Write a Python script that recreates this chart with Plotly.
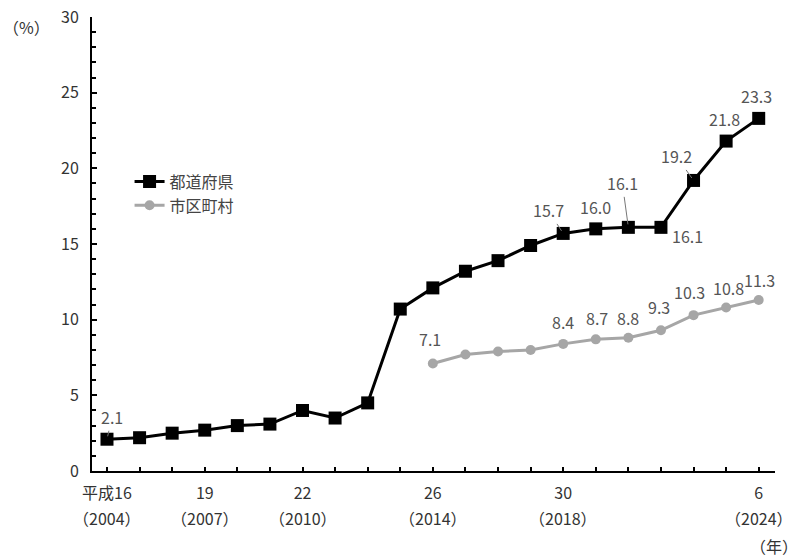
import plotly.graph_objects as go

years = list(range(2004, 2025))
pref_values = [2.1, 2.2, 2.5, 2.7, 3.0, 3.1, 4.0, 3.5, 4.5, 10.7, 12.1, 13.2, 13.9, 14.9,
               15.7, 16.0, 16.1, 16.1, 19.2, 21.8, 23.3]
muni_years = list(range(2014, 2025))
muni_values = [7.1, 7.7, 7.9, 8.0, 8.4, 8.7, 8.8, 9.3, 10.3, 10.8, 11.3]

pref_name = "都道府県"
muni_name = "市区町村"

tick_years = [2004, 2007, 2010, 2014, 2018, 2024]
tick_era_labels = ["平成16", "19", "22", "26", "30", "6"]
tick_year_labels = ["（2004）", "（2007）", "（2010）", "（2014）", "（2018）", "（2024）"]

# labelled points
pref_label_years = [2004, 2018, 2019, 2020, 2021, 2022, 2023, 2024]
muni_label_years = [2014, 2018, 2019, 2020, 2021, 2022, 2023, 2024]

# style: label offsets (px) and whether a leader line is drawn
pref_offsets = {2004: (5, -22, True), 2018: (-15, -23, True), 2019: (0, -22, False),
                2020: (-6, -44, True), 2021: (27, 9, False), 2022: (-17, -24, True),
                2023: (-2, -22, False), 2024: (-2, -22, False)}
muni_offsets = {2014: (-3, -25), 2018: (0, -22), 2019: (1, -21), 2020: (0, -20),
                2021: (-2, -23), 2022: (-4, -23), 2023: (2, -20), 2024: (1, -20)}

FONT = "Liberation Sans Narrow, Noto Sans CJK JP"
LABEL_COLOR = "#555555"
TICK_COLOR = "#333333"

fig = go.Figure()
fig.add_trace(go.Scatter(
    x=years, y=pref_values, name=pref_name, mode="lines+markers",
    line=dict(color="black", width=3),
    marker=dict(symbol="square", size=13, color="black"),
))
fig.add_trace(go.Scatter(
    x=muni_years, y=muni_values, name=muni_name, mode="lines+markers",
    line=dict(color="#a6a6a6", width=3),
    marker=dict(symbol="circle", size=10, color="#a6a6a6"),
))

annotations = []
for yr in pref_label_years:
    v = pref_values[years.index(yr)]
    dx, dy, arrow = pref_offsets[yr]
    if arrow:
        annotations.append(dict(x=yr, y=v, xref="x", yref="y", text=f"{v:.1f}",
                                showarrow=True, ax=dx, ay=dy, arrowhead=0,
                                arrowwidth=1, arrowcolor="#777777", standoff=3,
                                startstandoff=0,
                                font=dict(family=FONT, size=16, color=LABEL_COLOR)))
    else:
        annotations.append(dict(x=yr, y=v, xref="x", yref="y", text=f"{v:.1f}",
                                showarrow=False, xshift=dx, yshift=-dy,
                                font=dict(family=FONT, size=16, color=LABEL_COLOR)))
for yr in muni_label_years:
    v = muni_values[muni_years.index(yr)]
    dx, dy = muni_offsets[yr]
    annotations.append(dict(x=yr, y=v, xref="x", yref="y", text=f"{v:.1f}",
                            showarrow=False, xshift=dx, yshift=-dy,
                            font=dict(family=FONT, size=16, color=LABEL_COLOR)))

# second line of the x tick labels (western year)
for yr, lab in zip(tick_years, tick_year_labels):
    annotations.append(dict(x=yr, y=0, xref="x", yref="paper", text=lab,
                            showarrow=False, xanchor="center", yanchor="middle",
                            yshift=-47,
                            font=dict(family=FONT, size=16, color=TICK_COLOR)))

plot_w = 788 - 92 - 13
plot_h = 555 - 17 - 84
annotations.append(dict(x=(26 - 92) / plot_w, y=(555 - 84 - 27) / plot_h,
                        xref="paper", yref="paper", text="（%）",
                        showarrow=False, xanchor="center", yanchor="middle",
                        font=dict(family=FONT, size=16, color=TICK_COLOR)))
annotations.append(dict(x=1.0, y=0, xref="paper", yref="paper", text="（年）",
                        showarrow=False, xanchor="left", yanchor="middle", yshift=-75,
                        xshift=-27,
                        font=dict(family=FONT, size=16, color=TICK_COLOR)))

fig.update_layout(
    width=788, height=555,
    margin=dict(l=92, r=13, t=17, b=84, autoexpand=False),
    paper_bgcolor="white", plot_bgcolor="white",
    font=dict(family=FONT, size=16, color=TICK_COLOR),
    showlegend=True,
    legend=dict(x=0.055, y=0.675, xanchor="left", yanchor="top",
                bgcolor="rgba(0,0,0,0)", font=dict(family=FONT, size=16, color="#444444"),
                itemwidth=30, tracegroupgap=2),
    annotations=annotations,
)
fig.update_xaxes(
    range=[2003.54, 2024.5], showgrid=False, zeroline=False, automargin=False,
    showline=True, linecolor="black", linewidth=2,
    tickmode="array", tickvals=years,
    ticktext=[tick_era_labels[tick_years.index(y)] if y in tick_years else "" for y in years],
    ticks="inside", ticklen=4, tickwidth=2, tickcolor="black",
    ticklabeloverflow="allow", ticklabelstandoff=7,
    tickfont=dict(family=FONT, size=16, color=TICK_COLOR),
)
fig.update_yaxes(
    range=[0, 30], showgrid=False, zeroline=False, automargin=False,
    showline=True, linecolor="black", linewidth=2,
    tickmode="linear", tick0=0, dtick=5,
    ticks="inside", ticklen=5, tickwidth=2, tickcolor="black",
    ticklabelstandoff=8,
    minor=dict(dtick=1, ticks="inside", ticklen=4, tickwidth=2, tickcolor="black"),
    tickfont=dict(family=FONT, size=16, color=TICK_COLOR),
)

fig.write_html("out.html", config={"displayModeBar": False},
               post_script="document.body.style.margin='0';document.body.style.overflow='hidden';")
